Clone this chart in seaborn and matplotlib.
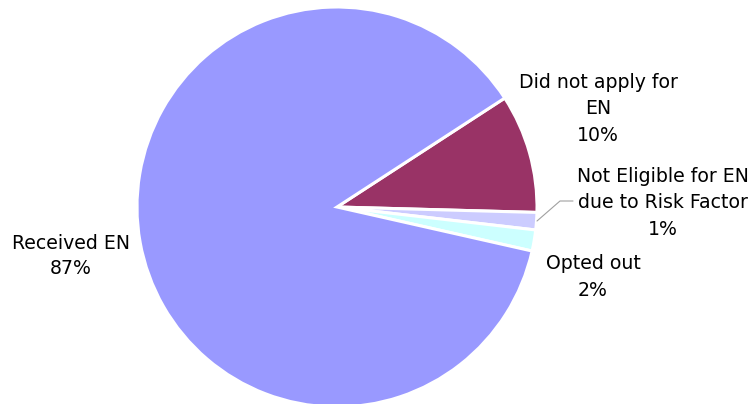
import matplotlib
matplotlib.use("Agg")
import matplotlib.pyplot as plt
import seaborn as sns

# EN status breakdown
categories = ["Did not apply for\nEN", "Not Eligible for EN\ndue to Risk Factor", "Opted out", "Received EN"]
shares = [9.6, 1.4, 1.7, 87.3]
colors = ["#993366", "#CCCCFF", "#CCFFFF", "#9999FF"]

sns.set_theme(style="white")
plt.rcParams["font.family"] = ["DejaVu Sans"]

W, H = 755, 404
fig = plt.figure(figsize=(W / 100, H / 100), dpi=100)
# pie centre at (337, 207) px from top-left, radius 200 px
cx, cy, r = 337, 207, 200
ax = fig.add_axes([(cx - r) / W, (H - cy - r) / H, 2 * r / W, 2 * r / H])

wedges, texts, pcts = ax.pie(shares, colors=colors, startangle=33, counterclock=False,
                             autopct="%.0f%%", labels=categories,
                             wedgeprops=dict(edgecolor="white", linewidth=2.2))
ax.set_xlim(-1, 1)
ax.set_ylim(-1, 1)
ax.set_aspect("auto")
ax.axis("off")

def px(x, y):
    return ((x - cx) / r, (cy - y) / r)

# label centres in pixels and line spacing
spots = [(598, 109), (663, 203), (593, 277), (71, 256)]
spacing = [1.52, 1.5, 1.55, 1.4]
for t, p, (x, y), ls in zip(texts, pcts, spots, spacing):
    t.set_text(t.get_text() + "\n" + p.get_text())
    p.set_visible(False)
    t.set_position(px(x, y))
    t.set_ha("center")
    t.set_va("center")
    t.set_fontsize(13.6)
    t.set_linespacing(ls)
    t.set_color("black")

# leader line for the small slice
lx, ly = zip(px(537, 221), px(560, 201), px(573, 201))
ax.plot(lx, ly, color="#A0A0A0", linewidth=0.8, clip_on=False)

fig.savefig("out.png", dpi=100, facecolor="white")
